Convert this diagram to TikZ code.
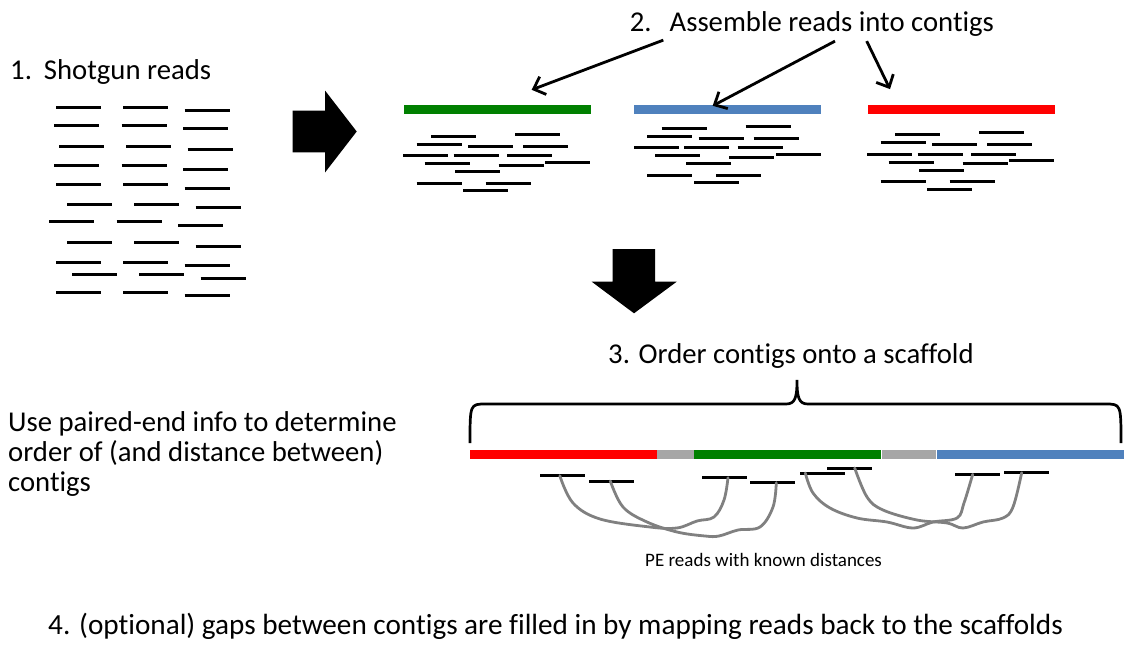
\documentclass[tikz,border=0pt]{standalone}
\usepackage{fontspec}
\setmainfont{Carlito}[Ligatures=NoCommon]
\usepackage{tikz}
\usetikzlibrary{arrows.meta, positioning}
\definecolor{contiggreen}{RGB}{0,128,0}
\definecolor{contigblue}{RGB}{79,129,189}
\definecolor{contigred}{RGB}{255,0,0}
\definecolor{gapgray}{RGB}{166,166,166}
\definecolor{pegray}{RGB}{128,128,128}

% reads piled up under one contig, #1 = left end of the contig, #2 = top row
\newcommand{\contigreads}[2]{%
  \foreach \dx/\dy in {27.7/26.5, 111.7/24.8, 13.3/34.8, 64.7/36.5, 119.7/36.5,
      0/46.2, 50.3/46.2, 103.7/46.2, 21.3/54.2, 95.3/55.8, 142/52.5,
      52/62.2, 13.3/73.5, 82.3/73.5, 60/81.2} {
    \draw[read] ({#1+\dx},{#2+\dy}) -- ++(45,0);
  }%
}

\begin{document}
\begin{tikzpicture}[x=1pt, y=-1pt,
    read/.style={line width=3pt},
    contig/.style={fill=#1, minimum width=187pt, minimum height=9pt, inner sep=0pt, anchor=west},
    txt/.style={font=\fontsize{28.7}{30}\selectfont, inner sep=0pt, anchor=base west, align=left},
    ptr/.style={line width=2.8pt, -{Straight Barb[length=10pt, width=19pt]}},
    peread/.style={fill=black, minimum width=45pt, minimum height=3pt, inner sep=0pt},
    pe/.style={line width=2.8pt, pegray, line cap=round}]
    \useasboundingbox (0,0) rectangle (1124,645);

    % 1. shotgun reads
    \node[txt] (shotgun) at (10,79) {1.\hspace{12pt}Shotgun reads};
    \foreach \x/\y in {56/107.3, 54.3/125, 59/146, 54.3/165.7, 56/184.7, 67/204,
        49.3/221.7, 67/242.7, 56/262, 72/274.7, 56/292.3} {
        \draw[read] (\x,\y) -- ++(45,0);
        \draw[read] ({\x+67.3},\y) -- ++(45,0);
        \draw[read] ({\x+128.7},{\y+3.3}) -- ++(45,0);
    }

    % big arrow to the right
    \fill (292.7,110.7) -- (325,110.7) -- (325,90.5) -- (356.7,131.5)
        -- (325,172.5) -- (325,152.3) -- (292.7,152.3) -- cycle;

    % 2. contigs
    \node[txt] (asm) at (629.7,31) {2.\hspace{18pt}Assemble reads into contigs};
    \node[contig=contiggreen] (gbar) at (403.3,109.5) {};
    \node[contig=contigblue] (bbar) at (634,109.5) {};
    \node[contig=contigred] (rbar) at (867.3,109.5) {};
    \contigreads{403.3}{109.5}
    \contigreads{634}{101.5}
    \contigreads{867.3}{108}

    \draw[ptr] ([xshift=33.6pt, yshift=-4pt]asm.south west) -- ([xshift=128.4pt, yshift=15pt]gbar.north west);
    \draw[ptr] ([xshift=205.3pt, yshift=-5pt]asm.south west) -- ([xshift=78.7pt, yshift=-1pt]bbar.north west);
    \draw[ptr] ([xshift=237pt, yshift=-5pt]asm.south west) -- ([xshift=22.7pt, yshift=15.7pt]rbar.north west);

    % big arrow down
    \fill (612.7,249) -- (655,249) -- (655,281.7) -- (676.7,281.7) -- (634,313.3)
        -- (591.7,281.7) -- (612.7,281.7) -- cycle;

    % 3. scaffold
    \node[txt] (order) at (608,363) {3. Order contigs onto a scaffold};
    \draw[line width=2.7pt] (470,443) .. controls (470,404) and (470,404) .. (486,404)
        -- (786,404) .. controls (795,404) and (797,398) .. (797,380)
        .. controls (797,398) and (799,404) .. (808,404)
        -- (1105,404) .. controls (1121,404) and (1121,404) .. (1121,443);

    \node[contig=contigred, minimum width=186.7pt] (sred) at (470,454) {};
    \node[contig=gapgray, minimum width=36.6pt, right=0pt of sred] (gap1) {};
    \node[contig=contiggreen, right=0pt of gap1] (sgreen) {};
    \node[contig=gapgray, minimum width=54.7pt, right=0pt of sgreen] (gap2) {};
    \node[contig=contigblue, minimum width=186.7pt, right=0pt of gap2] (sblue) {};

    \node[txt] (usepe) at (8,491.7) {Use paired-end info to determine\\order of (and distance between)\\contigs};

    % paired-end reads
    \node[peread] (peA) at (562.8,475.7) {};
    \node[peread] (peB) at (611.3,481) {};
    \node[peread] (peC) at (724,477.7) {};
    \node[peread] (peD) at (772.3,482.7) {};
    \node[peread] (peE) at (822.3,473) {};
    \node[peread] (peF) at (849.7,468) {};
    \node[peread] (peG) at (977.2,474.3) {};
    \node[peread] (peH) at (1026.7,472.7) {};

    \draw[pe] plot[smooth, tension=0.6] coordinates {([xshift=-3pt]peA.center) (573,503) (600,519)
        (650,527) (677,528) (697,521) (714,517) (724,500) ([xshift=4pt]peC.center)};
    \draw[pe] plot[smooth, tension=0.6] coordinates {([xshift=-1pt]peB.center) (623,507) (647,522)
        (677,532) (705,536) (719,536) (738,530) (760,527) (773,507) ([xshift=4pt]peD.center)};
    \draw[pe] plot[smooth, tension=0.6] coordinates {([xshift=-17pt]peE.center) (813,493) (830,508)
        (857,518) (887,522) (913,528) (933,522) (957,518) (964,503) ([xshift=-4.5pt]peG.center)};
    \draw[pe] plot[smooth, tension=0.6] coordinates {([xshift=5pt]peF.center) (867,497) (883,510)
        (917,520) (947,523) (963,528) (983,522) (1003,518) (1013,507) ([xshift=-5pt]peH.center)};

    \node[txt, font=\fontsize{19}{22}\selectfont] (pelabel) at (645,566) {PE reads with known distances};

    % 4. gap filling
    \node[txt, font=\fontsize{29.2}{32}\selectfont] (fill) at (48,634) {4. (optional) gaps between contigs are filled in by mapping reads back to the scaffolds};
\end{tikzpicture}
\end{document}
